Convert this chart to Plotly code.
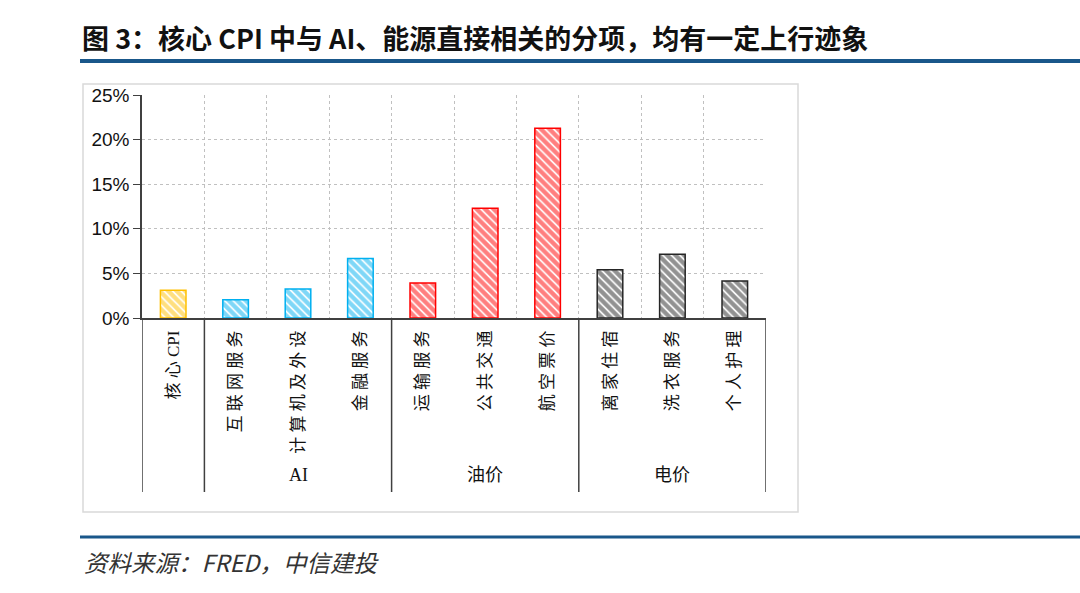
import plotly.graph_objects as go

# ---- data ----
categories = ["核心CPI", "互联网服务", "计算机及外设", "金融服务", "运输服务",
              "公共交通", "航空票价", "离家住宿", "洗衣服务", "个人护理"]
values = [3.10, 2.05, 3.25, 6.68, 3.92, 12.31, 21.27, 5.41, 7.16, 4.14]
groups = ["AI", "油价", "电价"]
group_centers = [2, 5, 8]
group_bounds = [-0.5, 0.5, 3.5, 6.5, 9.5]
y_ticks = [0, 5, 10, 15, 20, 25]
y_tick_labels = ["0%", "5%", "10%", "15%", "20%", "25%"]

# ---- styles ----
bar_colors = ["#FFC000", "#00B0F0", "#00B0F0", "#00B0F0", "#FF0000",
              "#FF0000", "#FF0000", "#262626", "#262626", "#262626"]
W, H = 1080, 593
def py(pix):
    return 1 - pix / H

tick_text = ["核 心 CPI" if c == "核心CPI" else " ".join(list(c)) for c in categories]

fig = go.Figure()
fig.add_trace(go.Bar(
    x=categories, y=values, width=0.41,
    marker=dict(color="white",
                line=dict(color=bar_colors, width=1.5),
                pattern=dict(shape="\\", fgcolor=bar_colors, bgcolor="white",
                             size=6, solidity=0.72, fillmode="overlay")),
    showlegend=False, hoverinfo="x+y"))

fig.update_layout(
    width=W, height=H, margin=dict(l=0, r=0, t=0, b=0, autoexpand=False),
    paper_bgcolor="white", plot_bgcolor="white",
    xaxis=dict(domain=[142 / W, 766 / W], type="category", automargin=False,
               tickmode="array", tickvals=categories, ticktext=tick_text,
               tickangle=-90, tickson="boundaries", ticks="",
               ticklabelstandoff=4,
               showgrid=True, gridcolor="#C0C0C0", griddash="3px,3px", gridwidth=1,
               showline=True, linecolor="#404040", linewidth=1.5,
               tickfont=dict(family="Liberation Serif, Noto Sans CJK SC", size=17, color="#111"),
               range=[-0.5, 9.5]),
    yaxis=dict(domain=[py(318), py(95)], range=[0, 25], automargin=False,
               tickmode="array", tickvals=y_ticks, ticktext=y_tick_labels,
               showgrid=True, gridcolor="#C0C0C0", griddash="3px,3px", gridwidth=1,
               showline=True, linecolor="#404040", linewidth=1.5,
               ticks="outside", ticklen=7, tickcolor="#404040",
               zeroline=False,
               tickfont=dict(family="Liberation Sans, Arial", size=19, color="#111")),
)

shapes = []
# chart box
shapes.append(dict(type="rect", xref="paper", yref="paper",
                   x0=83 / W, x1=798 / W, y0=py(512), y1=py(84),
                   line=dict(color="#D9D9D9", width=1.5), layer="below"))
# blue rules
shapes.append(dict(type="line", xref="paper", yref="paper",
                   x0=80 / W, x1=1, y0=py(61), y1=py(61),
                   line=dict(color="#19578A", width=4)))
shapes.append(dict(type="line", xref="paper", yref="paper",
                   x0=80 / W, x1=1, y0=py(537), y1=py(537),
                   line=dict(color="#19578A", width=3)))
# group separators below axis
for b in group_bounds:
    shapes.append(dict(type="line", xref="x", yref="paper",
                       x0=b, x1=b, y0=py(318), y1=py(492),
                       line=dict(color="#404040", width=1.5)))
fig.update_layout(shapes=shapes)

annotations = []
for g, c in zip(groups, group_centers):
    annotations.append(dict(x=c, y=py(475), xref="x", yref="paper", text=g,
                            showarrow=False, xanchor="center", yanchor="middle",
                            font=dict(family="Liberation Serif, Noto Sans CJK SC", size=18, color="#111")))
annotations.append(dict(x=80 / W, y=py(38), xref="paper", yref="paper",
                        text="<b>图 3：核心 CPI 中与 AI、能源直接相关的分项，均有一定上行迹象</b>",
                        showarrow=False, xanchor="left", yanchor="middle",
                        font=dict(family="Noto Sans CJK SC", size=27, color="#111")))
annotations.append(dict(x=82 / W, y=py(562), xref="paper", yref="paper",
                        text="<i>资料来源：FRED，中信建投</i>",
                        showarrow=False, xanchor="left", yanchor="middle",
                        font=dict(family="Noto Sans CJK SC", size=23.5, color="#333")))
fig.update_layout(annotations=annotations)

fig.write_html("out.html")
